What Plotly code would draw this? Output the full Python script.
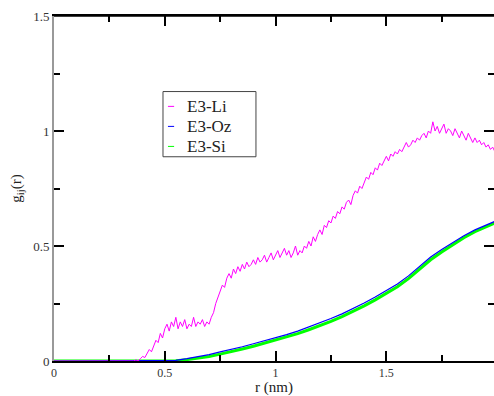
import plotly.graph_objects as go

# ---------------- data ----------------
r_li = [round(i * 0.01, 2) for i in range(200)]
g_li = ([0.0] * 37 + [
    0.005, 0.0, 0.01, 0.02, 0.015, 0.03, 0.05, 0.04, 0.07, 0.09,          # 0.37-0.46
    0.08, 0.12, 0.10, 0.14, 0.16, 0.13, 0.17, 0.15, 0.19, 0.14,           # 0.47-0.56
    0.17, 0.15, 0.18, 0.14, 0.16, 0.15, 0.19, 0.15, 0.17, 0.16,           # 0.57-0.66
    0.18, 0.15, 0.17, 0.16, 0.19, 0.21, 0.25, 0.28, 0.30, 0.33,           # 0.67-0.76
    0.32, 0.36, 0.38, 0.36, 0.40, 0.38, 0.41, 0.39, 0.42, 0.40,           # 0.77-0.86
    0.43, 0.41, 0.42, 0.44, 0.42, 0.45, 0.43, 0.44, 0.46, 0.43,           # 0.87-0.96
    0.45, 0.47, 0.44, 0.46, 0.48, 0.45, 0.47, 0.49, 0.46, 0.48,           # 0.97-1.06
    0.45, 0.47, 0.50, 0.46, 0.48, 0.47, 0.50, 0.49, 0.52, 0.50,           # 1.07-1.16
    0.54, 0.52, 0.55, 0.57, 0.55, 0.59, 0.58, 0.61, 0.60, 0.63,           # 1.17-1.26
    0.62, 0.65, 0.64, 0.67, 0.66, 0.69, 0.70, 0.68, 0.72, 0.74,           # 1.27-1.36
    0.73, 0.76, 0.75, 0.78, 0.80, 0.79, 0.82, 0.81, 0.84, 0.83,           # 1.37-1.46
    0.86, 0.85, 0.87, 0.89, 0.87, 0.90, 0.89, 0.91, 0.90, 0.92,           # 1.47-1.56
    0.91, 0.93, 0.95, 0.93, 0.94, 0.96, 0.95, 0.97, 0.96, 0.98,           # 1.57-1.66
    0.99, 0.97, 1.00, 0.99, 1.04, 1.00, 1.02, 0.99, 1.01, 1.03,           # 1.67-1.76
    0.99, 1.01, 1.00, 0.98, 1.01, 0.99, 0.97, 1.00, 0.98, 0.96,           # 1.77-1.86
    0.99, 0.97, 0.95, 0.97, 0.95, 0.96, 0.94, 0.95, 0.93, 0.94,           # 1.87-1.96
    0.92, 0.93, 0.91])                                                    # 1.97-1.99

r_sm = [0.0, 0.05, 0.10, 0.15, 0.20, 0.25, 0.30, 0.35, 0.40, 0.45, 0.50,
        0.55, 0.60, 0.65, 0.70, 0.75, 0.80, 0.85, 0.90, 0.95, 1.00,
        1.05, 1.10, 1.15, 1.20, 1.25, 1.30, 1.35, 1.40, 1.45, 1.50,
        1.55, 1.60, 1.65, 1.70, 1.75, 1.80, 1.85, 1.90, 1.95, 1.99]
g_oz = [0, 0, 0, 0, 0, 0, 0, 0, 0, 0, 0.0,
        0.003, 0.010, 0.018, 0.028, 0.040, 0.050, 0.062, 0.075, 0.088, 0.100,
        0.115, 0.130, 0.148, 0.165, 0.185, 0.205, 0.228, 0.252, 0.278, 0.305,
        0.335, 0.370, 0.410, 0.452, 0.485, 0.515, 0.545, 0.570, 0.590, 0.607]
g_si = [0, 0, 0, 0, 0, 0, 0, 0, 0, 0, 0.0,
        0.001, 0.006, 0.012, 0.020, 0.030, 0.040, 0.052, 0.064, 0.077, 0.090,
        0.104, 0.119, 0.136, 0.153, 0.172, 0.193, 0.216, 0.240, 0.266, 0.293,
        0.323, 0.358, 0.398, 0.440, 0.474, 0.505, 0.536, 0.562, 0.583, 0.600]

names = ["E3-Li", "E3-Oz", "E3-Si"]
colors = ["#FF00FF", "#0000FF", "#00FF00"]

x_ticks = [0, 0.5, 1, 1.5]
x_tick_text = ["0", "0.5", "1", "1.5"]
y_ticks = [0, 0.5, 1, 1.5]
y_tick_text = ["0", "0.5", "1", "1.5"]

# ---------------- figure ----------------
fig = go.Figure()
fig.add_trace(go.Scatter(x=r_sm, y=g_si, mode="lines", name=names[2],
                         line=dict(color=colors[2], width=3), showlegend=False))
fig.add_trace(go.Scatter(x=r_sm, y=g_oz, mode="lines", name=names[1],
                         line=dict(color=colors[1], width=1.2), showlegend=False))
fig.add_trace(go.Scatter(x=r_li, y=g_li, mode="lines", name=names[0],
                         line=dict(color=colors[0], width=1), showlegend=False))

font = "Liberation Serif"
fig.update_layout(
    width=494, height=396,
    margin=dict(l=54, r=0, t=16, b=35, autoexpand=False),
    paper_bgcolor="white", plot_bgcolor="white",
    font=dict(family=font, size=13, color="#333333"),
    xaxis=dict(range=[0, 1.986], tickvals=x_ticks, ticktext=x_tick_text,
               ticks="inside", ticklen=10, tickwidth=1.5, tickcolor="black",
               minor=dict(ticks="inside", ticklen=6, dtick=0.25, tick0=0,
                          tickcolor="black", tickwidth=1.5),
               showline=True, linecolor="black", linewidth=1.5, mirror="ticks",
               showgrid=False, zeroline=False,
               title=dict(text="r (nm)", font=dict(family=font, size=15, color="#222222"), standoff=9),
               tickfont=dict(family=font, size=12), automargin=True),
    yaxis=dict(range=[0, 1.5], tickvals=y_ticks, ticktext=y_tick_text,
               ticks="inside", ticklen=10, tickwidth=1.5, tickcolor="black",
               minor=dict(ticks="inside", ticklen=6, dtick=0.25, tick0=0,
                          tickcolor="black", tickwidth=1.5),
               showline=True, linecolor="#999999", linewidth=2, mirror="ticks",
               showgrid=False, zeroline=False,
               title=dict(text="g<sub>ij</sub>(r)", font=dict(family=font, size=15, color="#222222"), standoff=8),
               tickfont=dict(family=font, size=13), automargin=True),
)

# top border (black) over the mirrored axis
fig.add_shape(type="line", xref="paper", yref="paper", x0=0, x1=1, y0=1, y1=1,
              line=dict(color="black", width=1.5))

# legend box drawn by hand (short sample lines like the original)
px0, px1, py0, py1 = 0.2477, 0.459, 0.592, 0.781
fig.add_shape(type="rect", xref="paper", yref="paper", x0=px0, x1=px1, y0=py0, y1=py1,
              line=dict(color="#444444", width=1), fillcolor="white", layer="above")
rows = [0.738, 0.680, 0.622]
for name, col, yy in zip(names, colors, rows):
    fig.add_shape(type="line", xref="paper", yref="paper", x0=0.259, x1=0.273, y0=yy, y1=yy,
                  line=dict(color=col, width=1), layer="above")
    fig.add_annotation(xref="paper", yref="paper", x=0.2977, y=yy, text=name,
                       showarrow=False, xanchor="left", yanchor="middle",
                       font=dict(family=font, size=17, color="#222222"))

fig.write_html("out.html")
